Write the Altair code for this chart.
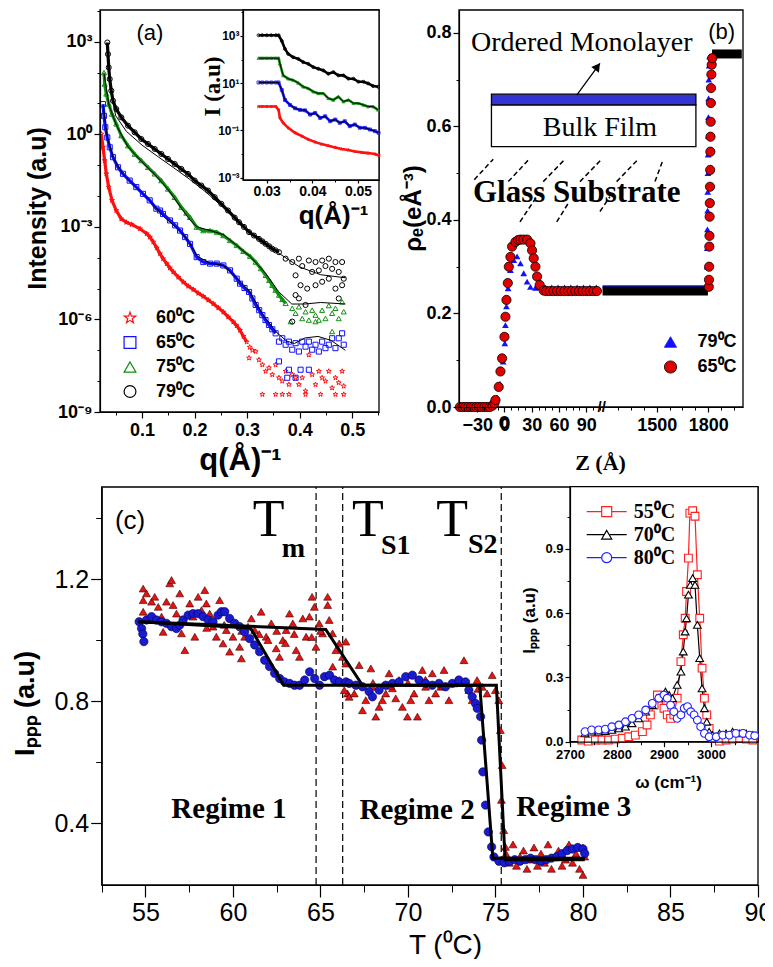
import altair as alt
import pandas as pd

W, H = 757, 951
SANS = "Liberation Sans, Arial, sans-serif"
NARROW = "Liberation Sans Narrow, Arial Narrow, Liberation Sans, sans-serif"
SERIF = "Liberation Serif, Times New Roman, serif"

# ======================= panel (a): X-ray reflectivity =======================
A_SERIES = ["60⁰C", "65⁰C", "75⁰C", "79⁰C"]
A_COLORS = ["#ff1010", "#1010ff", "#109010", "#000000"]
STAR = "M0,-1L0.235,-0.324L0.951,-0.309L0.38,0.124L0.588,0.809L0,0.4L-0.588,0.809L-0.38,0.124L-0.951,-0.309L-0.235,-0.324Z"
A_SHAPES = [STAR, "square", "triangle-up", "circle"]

# (q [1/A], log10 intensity)
a60_curve = [(0.0225, 0.01), (0.0257, -0.42), (0.0289, -0.85), (0.0320, -1.28), (0.0366, -1.71), (0.0428, -2.14),
             (0.0510, -2.47), (0.0605, -2.74), (0.0700, -2.85), (0.0803, -2.92), (0.0961, -3.06), (0.1089, -3.22),
             (0.1150, -3.33), (0.1215, -3.49), (0.1280, -3.68), (0.1342, -3.87), (0.1400, -4.03), (0.1469, -4.19),
             (0.1530, -4.33), (0.1595, -4.46), (0.1690, -4.63), (0.1786, -4.79), (0.1880, -4.92), (0.1976, -5.03),
             (0.2070, -5.15), (0.2166, -5.25), (0.2260, -5.37), (0.2357, -5.49), (0.2450, -5.62), (0.2547, -5.76),
             (0.2640, -5.92), (0.2737, -6.08), (0.2800, -6.20), (0.2865, -6.35), (0.2930, -6.55), (0.2992, -6.73)]
a60_scatter = [(0.3037, -7.25), (0.3050, -6.90), (0.3100, -7.00), (0.3163, -7.04), (0.3226, -7.31), (0.3290, -7.47),
               (0.3353, -7.68), (0.3416, -7.57), (0.3479, -7.79), (0.3543, -7.47), (0.3606, -7.89), (0.3669, -8.00),
               (0.3733, -7.68), (0.3796, -8.11), (0.3859, -7.79), (0.3922, -7.89), (0.3985, -8.11), (0.4049, -7.89),
               (0.4112, -8.32), (0.4175, -7.15), (0.4238, -7.79), (0.4302, -8.11), (0.4365, -7.68), (0.4428, -7.89),
               (0.4491, -8.00), (0.4555, -7.68), (0.4618, -8.22), (0.4681, -7.89), (0.4744, -8.05), (0.4808, -7.68),
               (0.4839, -8.16), (0.3290, -8.43), (0.3543, -8.43), (0.3669, -8.43), (0.3796, -8.43), (0.4112, -8.43),
               (0.4397, -8.43), (0.4681, -8.43), (0.4839, -8.43)]
a65_curve = [(0.0257, 0.98), (0.0276, 0.60), (0.0301, 0.23), (0.0339, -0.10), (0.0385, -0.42), (0.0447, -0.74),
             (0.0543, -1.07), (0.0638, -1.28), (0.0765, -1.50), (0.0891, -1.71), (0.1018, -1.93), (0.1146, -2.14),
             (0.1272, -2.41), (0.1342, -2.47), (0.1399, -2.58), (0.1532, -2.79), (0.1630, -2.95), (0.1723, -3.12),
             (0.1820, -3.33), (0.1913, -3.55), (0.2040, -3.98), (0.2166, -4.14), (0.2294, -4.19), (0.2421, -4.19),
             (0.2547, -4.25), (0.2674, -4.41), (0.2802, -4.68), (0.2865, -4.84), (0.2950, -4.98), (0.3037, -5.11),
             (0.3100, -5.32), (0.3163, -5.53), (0.3230, -5.70), (0.3290, -5.86), (0.3350, -6.02), (0.3416, -6.18),
             (0.3480, -6.32), (0.3543, -6.45)]
a65_scatter = [(0.3606, -6.72), (0.3669, -6.61), (0.3733, -6.82), (0.3796, -6.72), (0.3859, -6.98), (0.3922, -6.77),
               (0.3985, -7.04), (0.4049, -6.72), (0.4112, -6.88), (0.4175, -6.72), (0.4238, -6.98), (0.4302, -6.82),
               (0.4365, -7.04), (0.4428, -6.72), (0.4491, -6.93), (0.4555, -6.82), (0.4618, -6.61), (0.4681, -6.93),
               (0.4744, -6.61), (0.4808, -6.45), (0.4839, -6.82), (0.3606, -7.36), (0.3796, -7.63), (0.3922, -7.89),
               (0.4017, -7.63), (0.4175, -7.63), (0.3764, -7.89)]
a75_curve = [(0.0276, 2.00), (0.0289, 1.63), (0.0320, 1.31), (0.0366, 0.98), (0.0428, 0.66), (0.0510, 0.34),
             (0.0605, -0.04), (0.0733, -0.37), (0.0860, -0.64), (0.0986, -0.85), (0.1114, -1.07), (0.1241, -1.28),
             (0.1367, -1.50), (0.1494, -1.77), (0.1622, -2.04), (0.1747, -2.36), (0.1843, -2.55), (0.1913, -2.69),
             (0.2040, -3.01), (0.2167, -3.12), (0.2294, -3.12), (0.2421, -3.17), (0.2547, -3.28), (0.2674, -3.44),
             (0.2802, -3.60), (0.2927, -3.79), (0.3055, -3.95), (0.3163, -4.14), (0.3260, -4.35), (0.3353, -4.57),
             (0.3420, -4.73), (0.3479, -4.89), (0.3540, -5.05), (0.3606, -5.21), (0.3670, -5.35), (0.3733, -5.48)]
a75_scatter = [(0.3859, -5.64), (0.3922, -5.80), (0.3985, -5.59), (0.4049, -5.97), (0.4112, -5.75), (0.4175, -6.02),
               (0.4238, -5.70), (0.4302, -5.86), (0.4365, -6.02), (0.4428, -5.70), (0.4491, -5.97), (0.4555, -5.55),
               (0.4618, -5.80), (0.4681, -5.64), (0.4744, -5.97), (0.4808, -5.43), (0.4839, -5.75), (0.3828, -6.07),
               (0.4302, -6.07), (0.4618, -6.39)]
a79_curve = [(0.0339, 2.976), (0.0352, 2.599), (0.0366, 2.167), (0.0385, 1.790), (0.0415, 1.413), (0.0447, 1.089),
             (0.0510, 0.820), (0.0605, 0.550), (0.0733, 0.281), (0.0860, 0.065), (0.0986, -0.151), (0.1114, -0.312),
             (0.1241, -0.474), (0.1367, -0.636), (0.1494, -0.797), (0.1622, -0.959), (0.1747, -1.121), (0.1875, -1.283),
             (0.2002, -1.498), (0.2128, -1.660), (0.2256, -1.822), (0.2383, -2.037), (0.2509, -2.253), (0.2636, -2.469),
             (0.2764, -2.70), (0.2847, -2.85), (0.2940, -3.00), (0.3037, -3.17), (0.3130, -3.28), (0.3226, -3.39),
             (0.3290, -3.47), (0.3353, -3.55), (0.3420, -3.63), (0.3479, -3.71), (0.3540, -3.76), (0.3606, -3.82)]
a79_scatter = [(0.3733, -4.03), (0.3859, -4.14), (0.3985, -4.03), (0.4049, -4.27), (0.4175, -4.09), (0.4238, -4.46),
               (0.4302, -4.14), (0.4365, -4.41), (0.4428, -4.09), (0.4491, -4.27), (0.4555, -4.03), (0.4618, -4.36),
               (0.4681, -4.14), (0.4744, -4.46), (0.4808, -4.14), (0.4839, -4.68), (0.3922, -4.57), (0.4017, -4.89),
               (0.4144, -5.00), (0.4302, -4.89), (0.4428, -4.78), (0.4555, -4.68), (0.4681, -5.00), (0.4808, -4.89),
               (0.3922, -5.21), (0.3859, -6.07), (0.4112, -5.53), (0.3985, -5.32), (0.4744, -5.32)]
# fitted curves (thin black lines)
a_fit79 = [(0.034, 2.9), (0.040, 1.4), (0.050, 0.6), (0.070, 0.1), (0.100, -0.35), (0.130, -0.72), (0.160, -1.08),
           (0.190, -1.45), (0.220, -1.85), (0.250, -2.30), (0.280, -2.80), (0.320, -3.35), (0.360, -3.85),
           (0.400, -4.30), (0.440, -4.55), (0.487, -4.65)]
a_fit75 = [(0.028, 1.95), (0.037, 0.95), (0.051, 0.30), (0.073, -0.40), (0.099, -0.88), (0.124, -1.30), (0.150, -1.80),
           (0.175, -2.40), (0.190, -2.75), (0.205, -3.00), (0.230, -3.12), (0.255, -3.25), (0.280, -3.60),
           (0.305, -3.95), (0.335, -4.50), (0.360, -5.10), (0.385, -5.50), (0.410, -5.50), (0.440, -5.45), (0.487, -5.50)]
a_fit65 = [(0.026, 0.95), (0.034, -0.10), (0.045, -0.75), (0.064, -1.30), (0.089, -1.72), (0.115, -2.15), (0.140, -2.65),
           (0.172, -3.12), (0.190, -3.50), (0.205, -3.95), (0.230, -4.18), (0.255, -4.25), (0.280, -4.65),
           (0.305, -5.10), (0.330, -5.85), (0.355, -6.40), (0.375, -6.70), (0.390, -6.78), (0.410, -6.60),
           (0.435, -6.55), (0.460, -6.68), (0.487, -7.00)]

# inset of (a)
ai79 = [(0.0282, 3.03), (0.0290, 3.03), (0.0300, 3.03), (0.0310, 3.03), (0.0320, 3.03), (0.0326, 3.03), (0.0333, 2.79),
        (0.0340, 2.45), (0.0347, 2.24), (0.0358, 2.10), (0.0369, 2.03), (0.0380, 1.89), (0.0391, 1.82), (0.0402, 1.68),
        (0.0413, 1.61), (0.0424, 1.54), (0.0435, 1.40), (0.0446, 1.47), (0.0457, 1.33), (0.0468, 1.33), (0.0479, 1.19),
        (0.0490, 1.19), (0.0501, 1.06), (0.0512, 1.06), (0.0522, 0.99), (0.0533, 0.88), (0.0544, 0.85)]
ai75 = [(0.0282, 2.06), (0.0290, 2.06), (0.0300, 2.06), (0.0310, 2.06), (0.0320, 2.06), (0.0326, 2.06), (0.0329, 1.82),
        (0.0336, 1.33), (0.0347, 1.19), (0.0358, 1.13), (0.0369, 1.01), (0.0380, 0.85), (0.0391, 0.78), (0.0402, 0.64),
        (0.0413, 0.57), (0.0424, 0.57), (0.0435, 0.36), (0.0446, 0.29), (0.0457, 0.43), (0.0468, 0.22), (0.0479, 0.29),
        (0.0490, 0.15), (0.0501, 0.15), (0.0512, 0.08), (0.0522, 0.01), (0.0533, 0.01), (0.0544, -0.13)]
ai65 = [(0.0282, 1.03), (0.0290, 1.03), (0.0300, 1.03), (0.0310, 1.03), (0.0320, 1.03), (0.0326, 1.03), (0.0333, 0.71),
        (0.0340, 0.29), (0.0351, 0.08), (0.0362, -0.06), (0.0373, -0.13), (0.0384, -0.15), (0.0395, -0.33),
        (0.0406, -0.26), (0.0417, -0.47), (0.0428, -0.40), (0.0439, -0.61), (0.0450, -0.54), (0.0460, -0.68),
        (0.0471, -0.61), (0.0482, -0.82), (0.0493, -0.75), (0.0504, -0.89), (0.0515, -0.89), (0.0526, -0.96),
        (0.0537, -1.03), (0.0545, -1.10)]
ai60 = [(0.0282, 0.01), (0.0290, 0.01), (0.0300, 0.01), (0.0310, 0.01), (0.0320, 0.01), (0.0326, -0.13), (0.0329, -0.47),
        (0.0336, -0.68), (0.0347, -0.89), (0.0362, -1.10), (0.0377, -1.24), (0.0391, -1.38), (0.0406, -1.49),
        (0.0420, -1.58), (0.0435, -1.65), (0.0450, -1.72), (0.0464, -1.79), (0.0479, -1.83), (0.0493, -1.89),
        (0.0508, -1.93), (0.0522, -1.96), (0.0537, -2.00), (0.0546, -2.06)]

# ======================= panel (b): electron density =======================
b79 = [(-48, 0.0), (-40, 0.0), (-32, 0.0), (-24, 0.0), (-16, 0.0), (-8, 0.02), (-5, 0.05), (-3, 0.08), (-1.4, 0.097),
       (0.4, 0.136), (1.1, 0.175), (2.2, 0.215), (4.0, 0.254), (6.6, 0.293), (10.3, 0.314), (13.9, 0.322),
       (17.6, 0.307), (21.2, 0.286), (24.9, 0.268), (28.6, 0.257), (34.1, 0.255), (38, 0.256), (45, 0.256),
       (52, 0.256), (59, 0.256), (66, 0.256), (73, 0.256), (80, 0.256), (87, 0.256), (94, 0.256), (101, 0.256),
       (1792, 0.26), (1793, 0.30), (1794, 0.34), (1795, 0.38), (1796, 0.42), (1797, 0.46), (1798, 0.50), (1799, 0.54),
       (1800, 0.58), (1801, 0.62), (1802, 0.66), (1803, 0.70), (1805, 0.73), (1808, 0.75)]
b65 = [(-49, 0.0), (-46, 0.0), (-43, 0.0), (-40, 0.0), (-37, 0.0), (-34, 0.0), (-31, 0.0), (-28, 0.0), (-25, 0.0),
       (-22, 0.0), (-19, 0.0), (-16, 0.0), (-13, 0.003), (-11, 0.008), (-9.9, 0.015), (-6.3, 0.043), (-4.4, 0.076),
       (-2.6, 0.104), (0.0, 0.150), (1.1, 0.193), (2.2, 0.229), (3.7, 0.265), (4.8, 0.300), (6.6, 0.321), (8.4, 0.343),
       (12.1, 0.353), (15.0, 0.357), (17.6, 0.358), (21.0, 0.358), (24.9, 0.358), (28.6, 0.350), (30.4, 0.335),
       (32.2, 0.318), (34.1, 0.300), (35.9, 0.279), (38.8, 0.261), (43.2, 0.249), (46, 0.248), (50, 0.248),
       (54, 0.248), (58, 0.248), (62, 0.248), (66, 0.248), (70, 0.248), (74, 0.248), (78, 0.248), (82, 0.248),
       (86, 0.248), (90, 0.248), (94, 0.248), (98, 0.248), (101.8, 0.248), (1803, 0.257), (1804, 0.272),
       (1805, 0.300), (1806, 0.343), (1807, 0.366), (1808, 0.407), (1809, 0.436), (1810, 0.471), (1811, 0.507),
       (1812, 0.546), (1813, 0.578), (1814, 0.610), (1815, 0.650), (1816, 0.682), (1818, 0.711), (1820, 0.732),
       (1823, 0.746)]
b_blue_band = [(1185, 0.257), (1790, 0.257)]
b_black_band = [("low", 1185, 0.248), ("low", 1798, 0.248), ("top", 1822, 0.755), ("top", 1995, 0.755)]
B_TICKS = [-30, 0, 30, 60, 90, 1500, 1800]
# schematic (in data units of panel b)
b_box = [(-14.3, 1728, 0.557, 0.646)]
b_bar = [(-14.3, 1728, 0.646, 0.669)]
b_hatch = [(-33.2, 0.486, -12.3, 0.530), (4.2, 0.482, 26.2, 0.528), (42.7, 0.482, 66.6, 0.530),
           (83.1, 0.482, 107, 0.530), (1267, 0.482, 1393, 0.530), (1490, 0.482, 1538, 0.530),
           (17.1, 0.396, 35.5, 0.450), (57.5, 0.396, 70.3, 0.436), (105.1, 0.418, 1228, 0.450)]
b_arrow = [(79.5, 0.667), (105.1, 0.735)]
b_arrow_head = [(102.4, 0.728)]

# ======================= panel (c): SFG intensity vs T =======================
c_red = [(54.87, 1.169), (54.87, 1.131), (54.87, 1.093), (55.06, 1.153), (55.35, 1.126), (55.53, 1.142), (55.73, 1.109),
         (55.92, 1.077), (56.01, 1.027), (56.20, 1.126), (56.39, 1.186), (56.49, 1.197), (56.58, 1.115), (56.77, 1.087),
         (56.96, 1.153), (57.06, 1.022), (57.15, 1.066), (57.25, 0.967), (57.53, 1.120), (57.72, 1.077), (57.82, 1.011),
         (58.01, 1.142), (58.20, 1.098), (58.39, 1.164), (58.48, 1.120), (58.67, 1.087), (58.86, 1.044), (59.05, 1.011),
         (59.24, 1.131), (59.43, 0.989), (59.62, 1.033), (59.81, 0.962), (60.00, 1.011), (60.19, 1.055), (60.38, 0.978),
         (60.48, 0.940), (60.67, 1.011), (60.86, 1.044), (61.05, 1.071), (61.24, 1.033), (61.61, 1.093), (61.90, 1.011),
         (62.19, 1.055), (62.47, 0.973), (62.66, 0.945), (62.85, 1.000), (63.04, 1.033), (63.23, 1.087), (63.42, 1.055),
         (63.61, 0.967), (63.80, 0.945), (63.99, 1.071), (64.18, 1.011), (64.37, 1.077), (64.52, 1.142), (64.65, 1.109),
         (64.74, 0.978), (64.93, 1.055), (65.12, 1.022), (65.41, 1.115), (65.41, 1.142), (65.50, 1.066), (65.69, 1.022),
         (65.88, 0.967), (66.07, 0.989), (66.26, 0.945), (66.45, 0.923), (66.55, 0.825), (66.45, 0.995),
         (58.5, 1.04), (59.5, 1.05), (60.5, 1.03), (61.5, 1.02), (62.5, 1.03), (63.5, 1.02), (64.5, 1.01), (65.0, 1.03),
         (62.0, 1.00), (63.0, 0.99),
         (65.70, 0.913), (66.07, 0.869), (66.36, 0.836), (66.64, 0.814), (66.93, 0.825), (67.21, 0.918), (67.40, 0.770),
         (67.59, 0.803), (67.88, 0.907), (67.97, 0.847), (68.16, 0.749), (68.35, 0.781), (68.54, 0.803), (68.73, 0.825),
         (68.92, 0.891), (69.11, 0.842), (69.30, 0.809), (69.49, 0.869), (69.68, 0.781), (69.97, 0.749), (70.16, 0.803),
         (70.35, 0.825), (70.54, 0.749), (70.82, 0.902), (71.01, 0.847), (71.20, 0.803), (71.39, 0.891), (71.58, 0.825),
         (71.87, 0.847), (72.06, 0.902), (72.34, 0.803), (72.63, 0.858), (72.91, 0.869), (73.20, 0.934), (73.48, 0.836),
         (73.67, 0.803), (73.95, 0.869), (74.24, 0.847), (74.52, 0.825), (74.81, 0.885), (75.00, 0.836),
         (68.0, 0.86), (69.0, 0.85), (70.0, 0.86), (71.0, 0.87), (72.0, 0.85), (73.0, 0.86), (74.0, 0.84),
         (75.19, 0.803), (75.28, 0.705), (75.38, 0.590), (75.34, 0.476), (75.47, 0.377), (75.57, 0.322),
         (75.6, 0.30), (75.8, 0.27), (76.0, 0.33), (76.2, 0.26), (76.4, 0.29), (76.6, 0.31), (76.8, 0.25), (77.0, 0.28),
         (77.2, 0.32), (77.4, 0.26), (77.6, 0.30), (77.8, 0.27), (78.0, 0.33), (78.2, 0.25), (78.4, 0.29), (78.6, 0.31),
         (78.8, 0.26), (79.0, 0.28), (79.2, 0.33), (79.4, 0.27), (79.6, 0.30), (79.8, 0.25), (80.0, 0.32), (80.0, 0.23),
         (80.1, 0.29)]
c_blue = [(54.64, 1.060), (54.78, 1.038), (54.85, 1.02), (54.91, 0.995), (55.06, 1.066), (55.35, 1.077), (55.63, 1.066),
          (55.92, 1.060), (56.20, 1.055), (56.49, 1.044), (56.77, 1.038), (56.96, 1.049), (57.15, 1.066), (57.44, 1.082),
          (57.72, 1.087), (58.01, 1.087), (58.29, 1.077), (58.58, 1.066), (58.86, 1.060), (59.15, 1.082), (59.34, 1.093),
          (59.53, 1.093), (59.81, 1.071), (60.10, 1.055), (60.38, 1.044), (60.67, 1.027), (60.95, 1.005), (61.24, 0.984),
          (61.52, 0.962), (61.81, 0.934), (62.09, 0.913), (62.38, 0.891), (62.67, 0.874), (62.95, 0.863), (63.24, 0.858),
          (63.52, 0.852), (63.81, 0.852), (64.10, 0.869), (64.38, 0.896), (64.67, 0.874), (64.95, 0.852), (65.23, 0.880),
          (65.52, 0.885), (65.80, 0.869), (66.08, 0.863), (66.46, 0.863),
          (66.64, 0.858), (67.02, 0.852), (67.40, 0.847), (67.78, 0.831), (67.97, 0.814), (68.35, 0.836), (68.73, 0.852),
          (69.11, 0.858), (69.49, 0.863), (69.87, 0.880), (70.25, 0.885), (70.63, 0.869), (71.01, 0.858), (71.39, 0.852),
          (71.77, 0.858), (72.15, 0.847), (72.53, 0.858), (72.91, 0.869), (73.29, 0.863), (73.48, 0.836), (73.67, 0.814),
          (73.86, 0.792), (73.96, 0.776),
          (74.15, 0.749), (74.21, 0.672), (74.28, 0.568), (74.43, 0.459), (74.59, 0.371), (74.78, 0.322), (74.91, 0.289),
          (75.2, 0.275), (75.5, 0.27), (75.8, 0.275), (76.1, 0.28), (76.4, 0.275), (76.7, 0.28), (77.0, 0.285),
          (77.3, 0.28), (77.6, 0.275), (77.9, 0.28), (78.2, 0.285), (78.5, 0.29), (78.8, 0.30), (79.1, 0.31),
          (79.4, 0.315), (79.7, 0.32), (80.0, 0.315), (80.1, 0.30)]
c_fit = [("blue", 54.6, 1.06), ("blue", 61.0, 1.04), ("blue", 62.9, 0.852), ("blue", 74.1, 0.852),
         ("blue", 74.85, 0.285), ("blue", 80.1, 0.285),
         ("red", 54.6, 1.06), ("red", 65.3, 1.035), ("red", 67.4, 0.852), ("red", 75.05, 0.852),
         ("red", 75.55, 0.28), ("red", 80.1, 0.28)]
c_transitions = [64.75, 66.27, 75.33]

# inset of (c): SFG spectra
CI_SERIES = ["55⁰C", "70⁰C", "80⁰C"]
ci55 = [(2725, 0.008), (2739, 0.003), (2754, 0.008), (2768, 0.008), (2782, 0.008), (2796, 0.012), (2811, 0.016),
        (2825, 0.023), (2839, 0.031), (2854, 0.047), (2864, 0.078), (2871, 0.125), (2879, 0.171), (2886, 0.218),
        (2893, 0.203), (2900, 0.156), (2907, 0.125), (2914, 0.109), (2921, 0.125), (2928, 0.203), (2936, 0.374),
        (2941, 0.499), (2945, 0.576), (2948, 0.701), (2952, 0.857), (2955, 1.067), (2961, 1.078), (2966, 1.052),
        (2971, 0.779), (2976, 0.576), (2981, 0.343), (2986, 0.203), (2991, 0.125), (2996, 0.062), (3003, 0.016),
        (3018, 0.003), (3032, 0.008), (3046, 0.012), (3061, 0.016), (3075, 0.012), (3089, 0.008)]
ci70 = [(2732, 0.039), (2746, 0.047), (2761, 0.047), (2775, 0.050), (2789, 0.055), (2804, 0.062), (2818, 0.070),
        (2832, 0.086), (2846, 0.109), (2861, 0.140), (2875, 0.171), (2889, 0.203), (2903, 0.234), (2911, 0.218),
        (2918, 0.203), (2928, 0.265), (2936, 0.327), (2941, 0.421), (2945, 0.514), (2948, 0.576), (2952, 0.686),
        (2956, 0.732), (2961, 0.763), (2966, 0.732), (2971, 0.545), (2976, 0.390), (2981, 0.249), (2986, 0.156),
        (2991, 0.093), (2996, 0.047), (3003, 0.031), (3018, 0.039), (3032, 0.039), (3046, 0.047), (3061, 0.039),
        (3075, 0.039), (3089, 0.031)]
ci80 = [(2732, 0.047), (2746, 0.055), (2761, 0.055), (2775, 0.059), (2789, 0.070), (2804, 0.078), (2818, 0.093),
        (2832, 0.109), (2846, 0.125), (2861, 0.148), (2875, 0.179), (2889, 0.203), (2900, 0.218), (2907, 0.203),
        (2914, 0.171), (2921, 0.140), (2928, 0.109), (2936, 0.125), (2943, 0.156), (2950, 0.164), (2957, 0.140),
        (2964, 0.125), (2971, 0.101), (2978, 0.070), (2986, 0.039), (2996, 0.023), (3011, 0.023), (3025, 0.031),
        (3039, 0.031), (3053, 0.039), (3068, 0.039), (3082, 0.031), (3093, 0.028)]


# ======================= helpers =======================
def S(dom, rng):
    return alt.Scale(domain=dom, range=rng, nice=False, zero=False)

XA = ([0.02, 0.551], [92, 371]);         YA = ([-9, 4.03], [404, 2])
XAI = ([0.0248, 0.0546], [235, 371]);    YAI = ([-3.1, 4.1], [172, 2])
XB = ([-50, 107, 1180, 2002], [451, 593.7, 593.7, 735]); YB = ([0, 0.849], [399, 2])
XC = ([52.5, 90], [93.7, 750]);          YC = ([0.197, 1.502], [877, 479])
XCI = ([2700, 3100], [562, 750]);        YCI = ([0, 1.19], [733.7, 478.7])


def major(orient, offset, values, fs, font=SANS, weight="bold", tick=6, pad=2, fmt=None, expr=None,
          title=None, tfont=SANS, tfs=20, tweight="bold", tx=0, ty=0):
    kw = dict(orient=orient, offset=offset, values=values, grid=False, labelFont=font, labelFontSize=fs,
              labelFontWeight=weight, labelColor="black", tickColor="black", tickSize=tick, tickWidth=1.2,
              domainColor="black", domainWidth=1.2, labelPadding=pad, labelFlush=False,
              labelOverlap=False, zindex=1)
    if fmt:
        kw["format"] = fmt
    if expr:
        kw["labelExpr"] = expr
    if title:
        kw.update(title=title, titleFont=tfont, titleFontSize=tfs, titleFontWeight=tweight, titleColor="black",
                  titleX=tx, titleY=ty, titleAlign="center", titleBaseline="middle")
    else:
        kw["title"] = None
    return alt.Axis(**kw)


def minor(orient, offset, values, tick=3):
    return alt.Axis(orient=orient, offset=offset, values=values, labels=False, domain=False, grid=False,
                    ticks=True, tickSize=tick, tickColor="black", tickWidth=1, title=None, zindex=1)


def frame(xs, ys, xax, yax, sw=1.3):
    return alt.Chart(pd.DataFrame({"k": [0]})).mark_rect(fill="white", stroke="black", strokeWidth=sw).encode(
        x=alt.X(datum=xs[0][0], type="quantitative", scale=S(*xs), axis=xax),
        x2=alt.X2(datum=xs[0][-1]),
        y=alt.Y(datum=ys[0][0], type="quantitative", scale=S(*ys), axis=yax),
        y2=alt.Y2(datum=ys[0][-1]))


def texts(rows, xs, ys, **props):
    df = pd.DataFrame(rows, columns=["t", "x", "y"])
    base = dict(color="black", align="center", baseline="middle")
    base.update(props)
    return alt.Chart(df).mark_text(**base).encode(
        x=alt.X("x:Q", scale=S(*xs), axis=None),
        y=alt.Y("y:Q", scale=S(*ys), axis=None),
        text="t:N")


layers = []

# ----------------------------- (a) main -----------------------------
rows = []
for name, cur, sca in [("60⁰C", a60_curve, a60_scatter), ("65⁰C", a65_curve, a65_scatter),
                       ("75⁰C", a75_curve, a75_scatter), ("79⁰C", a79_curve, a79_scatter)]:
    rows += [dict(s=name, q=q, l=l, k="curve") for q, l in cur]
    rows += [dict(s=name, q=q, l=l, k="scatter") for q, l in sca]
df_a = pd.DataFrame(rows)
fit_rows = []
for name, fit in [("79", a_fit79), ("75", a_fit75), ("65", a_fit65)]:
    fit_rows += [dict(s=name, q=q, l=l) for q, l in fit]
df_afit = pd.DataFrame(fit_rows)

layers.append(frame(XA, YA,
                    minor("bottom", -547, [0.05, 0.15, 0.25, 0.35, 0.45, 0.55]),
                    minor("left", -92, [-8, -7, -5, -4, -2, -1, 1, 2, 4])))
layers.append(alt.Chart(df_a).transform_filter("datum.k == 'curve'").mark_line(strokeWidth=3.2).encode(
    x=alt.X("q:Q", scale=S(*XA), axis=None),
    y=alt.Y("l:Q", scale=S(*YA), axis=None),
    color=alt.Color("s:N", scale=alt.Scale(domain=A_SERIES, range=A_COLORS), legend=None),
    detail="s:N"))
legend_a = alt.Legend(orient="none", legendX=113, legendY=301, direction="vertical", title=None, padding=0,
                      labelFont=SANS, labelFontSize=18, labelFontWeight="bold", labelColor="black",
                      symbolSize=140, symbolStrokeWidth=1.2, labelOffset=17, rowPadding=6.5)
a_expr = ("datum.value == 3 ? '10³' : datum.value == 0 ? '10⁰' : datum.value == -3 ? '10⁻³' : "
          "datum.value == -6 ? '10⁻⁶' : '10⁻⁹'")
layers.append(alt.Chart(df_a).mark_point(filled=False, size=26, strokeWidth=1, opacity=1).encode(
    x=alt.X("q:Q", scale=S(*XA), axis=major("bottom", -547, [0.1, 0.2, 0.3, 0.4, 0.5], 18, fmt=".1f",
                                            tick=6, pad=3, title="q(Å)⁻¹", tfs=31, tx=232, ty=48)),
    y=alt.Y("l:Q", scale=S(*YA), axis=major("left", -92, [-9, -6, -3, 0, 3], 18, expr=a_expr, tick=6, pad=2,
                                            title="Intensity (a.u)", tfs=25, tx=-63, ty=200)),
    color=alt.Color("s:N", scale=alt.Scale(domain=A_SERIES, range=A_COLORS), legend=legend_a),
    shape=alt.Shape("s:N", scale=alt.Scale(domain=A_SERIES, range=A_SHAPES), legend=legend_a)))
layers.append(alt.Chart(df_afit).mark_line(color="black", strokeWidth=1).encode(
    x=alt.X("q:Q", scale=S(*XA), axis=None),
    y=alt.Y("l:Q", scale=S(*YA), axis=None),
    detail="s:N"))
layers.append(texts([("(a)", 0.115, 3.29)], XA, YA, font=SANS, fontSize=22))

# ----------------------------- (a) inset -----------------------------
rows = []
for name, d in [("60⁰C", ai60), ("65⁰C", ai65), ("75⁰C", ai75), ("79⁰C", ai79)]:
    rows += [dict(s=name, q=q, l=l) for q, l in d]
df_ai = pd.DataFrame(rows)
ai_expr = "datum.value == 3 ? '10³' : datum.value == 1 ? '10¹' : datum.value == -1 ? '10⁻¹' : '10⁻³'"
layers.append(frame(XAI, YAI,
                    minor("bottom", -779, [0.035, 0.045], 2),
                    minor("left", -235, [-2, 0, 2, 4], 2)))
layers.append(alt.Chart(df_ai).mark_line(strokeWidth=2.6).encode(
    x=alt.X("q:Q", scale=S(*XAI), axis=major("bottom", -779, [0.03, 0.04, 0.05], 14, fmt=".2f", tick=3, pad=1,
                                             title="q(Å)⁻¹", tfs=26, tx=325, ty=35)),
    y=alt.Y("l:Q", scale=S(*YAI), axis=major("left", -235, [-3, -1, 1, 3], 12, expr=ai_expr, tick=3, pad=1,
                                             title="I (a.u)", tfont=SERIF, tfs=23, tx=-31, ty=78)),
    color=alt.Color("s:N", scale=alt.Scale(domain=A_SERIES, range=A_COLORS), legend=None),
    detail="s:N"))
layers.append(alt.Chart(df_ai).mark_point(filled=False, size=9, strokeWidth=0.8, opacity=1).encode(
    x=alt.X("q:Q", scale=S(*XAI), axis=None),
    y=alt.Y("l:Q", scale=S(*YAI), axis=None),
    color=alt.Color("s:N", scale=alt.Scale(domain=A_SERIES, range=A_COLORS), legend=None),
    shape=alt.Shape("s:N", scale=alt.Scale(domain=A_SERIES, range=A_SHAPES), legend=None)))
layers.append(alt.Chart(df_ai).transform_filter("datum.s != '60⁰C'").mark_line(color="black", strokeWidth=0.9).encode(
    x=alt.X("q:Q", scale=S(*XAI), axis=None),
    y=alt.Y("l:Q", scale=S(*YAI), axis=None),
    detail="s:N"))

# ----------------------------- (b) -----------------------------
layers.append(frame(XB, YB,
                    minor("bottom", -552, [-45, -37.5, -22.5, -15, -7.5, 7.5, 15, 22.5, 37.5, 45, 52.5, 67.5, 75,
                                           82.5, 97.5, 105, 1275, 1350, 1425, 1575, 1650, 1725, 1875, 1950], 3),
                    minor("left", -451, [0.1, 0.3, 0.5, 0.7], 3)))
df_box = pd.DataFrame(b_box, columns=["z1", "z2", "r1", "r2"])
df_bar = pd.DataFrame(b_bar, columns=["z1", "z2", "r1", "r2"])
for dfr, fillc in [(df_box, "white"), (df_bar, "#3434d0")]:
    layers.append(alt.Chart(dfr).mark_rect(fill=fillc, stroke="black", strokeWidth=1.3).encode(
        x=alt.X("z1:Q", scale=S(*XB), axis=None), x2="z2:Q",
        y=alt.Y("r1:Q", scale=S(*YB), axis=None), y2="r2:Q"))
hatch_rows = []
for i, (z1, r1, z2, r2) in enumerate(b_hatch):
    hatch_rows += [dict(id=i, z=z1, r=r1), dict(id=i, z=z2, r=r2)]
layers.append(alt.Chart(pd.DataFrame(hatch_rows)).mark_line(color="black", strokeWidth=1.5, strokeDash=[5, 3]).encode(
    x=alt.X("z:Q", scale=S(*XB), axis=None),
    y=alt.Y("r:Q", scale=S(*YB), axis=None),
    detail="id:N"))
layers.append(alt.Chart(pd.DataFrame(b_arrow, columns=["z", "r"])).mark_line(color="black", strokeWidth=1.3).encode(
    x=alt.X("z:Q", scale=S(*XB), axis=None),
    y=alt.Y("r:Q", scale=S(*YB), axis=None)))
layers.append(alt.Chart(pd.DataFrame(b_arrow_head, columns=["z", "r"])).mark_point(
    shape="triangle-up", filled=True, color="black", size=90, angle=36, opacity=1).encode(
    x=alt.X("z:Q", scale=S(*XB), axis=None),
    y=alt.Y("r:Q", scale=S(*YB), axis=None)))
layers.append(texts([("Ordered Monolayer", 85.0, 0.778), ("Bulk Film", 105.1, 0.596)], XB, YB,
                    font=SERIF, fontSize=28))
layers.append(texts([("Glass Substrate", 79.5, 0.457)], XB, YB, font=SERIF, fontSize=31, fontWeight="bold"))
layers.append(alt.Chart(pd.DataFrame(b_blue_band, columns=["z", "r"])).mark_line(color="#1010ff", strokeWidth=3).encode(
    x=alt.X("z:Q", scale=S(*XB), axis=None),
    y=alt.Y("r:Q", scale=S(*YB), axis=None)))
layers.append(alt.Chart(pd.DataFrame(b_black_band, columns=["id", "z", "r"])).mark_line(
    color="black", strokeWidth=9).encode(
    x=alt.X("z:Q", scale=S(*XB), axis=None),
    y=alt.Y("r:Q", scale=S(*YB), axis=None),
    detail="id:N"))


def b_legend(y, shape, stroke_color):
    return alt.Legend(orient="none", legendX=653.5, legendY=y, direction="vertical", title=None, padding=0,
                      labelFont=SANS, labelFontSize=18, labelFontWeight="bold", labelColor="black",
                      symbolType=shape, symbolSize=150, symbolStrokeColor=stroke_color, symbolStrokeWidth=0.8,
                      labelOffset=18)


b_expr = "datum.value == 0 ? '0 ' : format(datum.value, 'd')"
df_b79 = pd.DataFrame([dict(s="79⁰C", z=z, r=r) for z, r in b79])
df_b65 = pd.DataFrame([dict(s="65⁰C", z=z, r=r) for z, r in b65])
layers.append(alt.Chart(df_b79).mark_point(shape="triangle-up", filled=True, size=45, opacity=1).encode(
    x=alt.X("z:Q", scale=S(*XB), axis=major("bottom", -552, B_TICKS, 18, expr=b_expr,
                                            tick=5, pad=4, title="Z (Å)", tfont=SERIF, tfs=22, tx=592, ty=55)),
    y=alt.Y("r:Q", scale=S(*YB), axis=major("left", -451, [0, 0.2, 0.4, 0.6, 0.8], 18, fmt=".1f", tick=6, pad=2,
                                            title="ρₑ(eÅ⁻³)", tfs=24, tx=-46, ty=200)),
    color=alt.Color("s:N", scale=alt.Scale(domain=["79⁰C"], range=["#1010ff"]),
                    legend=b_legend(325, "triangle-up", "#1010ff"))))
layers.append(alt.Chart(df_b65).mark_point(shape="circle", filled=True, size=85, stroke="black", strokeWidth=0.8,
                                           opacity=1).encode(
    x=alt.X("z:Q", scale=S(*XB), axis=None),
    y=alt.Y("r:Q", scale=S(*YB), axis=None),
    color=alt.Color("s:N", scale=alt.Scale(domain=["65⁰C"], range=["#e00000"]),
                    legend=b_legend(350, "circle", "black"))))
layers.append(texts([("(b)", 1878, 0.803)], XB, YB, font=SANS, fontSize=22))
layers.append(texts([("//", 107, 0.0)], XB, YB, font=SANS, fontSize=15, fontWeight="bold"))
# tick label "0" of panel (b), also written as a text mark in a fallback font just under its tick
layers.append(texts([("0", 0, -0.0192)], XB, YB, font="DejaVu Sans, sans-serif", fontSize=17,
                    fontWeight="bold", baseline="top"))

# ----------------------------- (c) main -----------------------------
layers.append(frame(XC, YC,
                    minor("bottom", -74, [52.5, 57.5, 62.5, 67.5, 72.5, 77.5, 82.5, 87.5], 7),
                    minor("left", -93.7, [0.6, 1.0, 1.4], 6)))
layers.append(alt.Chart(pd.DataFrame({"T": c_transitions})).mark_rule(
    color="black", strokeWidth=1.2, strokeDash=[7, 4]).encode(
    x=alt.X("T:Q", scale=S(*XC), axis=None),
    y=alt.Y(datum=YC[0][0], type="quantitative", scale=S(*YC), axis=None),
    y2=alt.Y2(datum=YC[0][1])))
layers.append(alt.Chart(pd.DataFrame(c_red, columns=["T", "v"])).mark_point(
    shape="triangle-up", filled=True, fill="#e41414", stroke="#3a0000", strokeWidth=0.6, size=62, opacity=1).encode(
    x=alt.X("T:Q", scale=S(*XC), axis=major("bottom", -74, [55, 60, 65, 70, 75, 80, 85, 90], 25, font=NARROW,
                                            weight="normal", fmt="d", tick=12, pad=3,
                                            title="T (⁰C)", tfont=SANS, tfs=28, tweight="normal", tx=437, ty=60)),
    y=alt.Y("v:Q", scale=S(*YC), axis=major("left", -93.7, [0.4, 0.8, 1.2], 25, font=NARROW, weight="normal",
                                            fmt=".1f", tick=11, pad=2,
                                            title="Iₚₚₚ (a.u)", tfs=27, tx=-76, ty=695))))
layers.append(alt.Chart(pd.DataFrame(c_blue, columns=["T", "v"])).mark_point(
    shape="circle", filled=True, fill="#1a1ad0", stroke="#000050", strokeWidth=0.6, size=70, opacity=1).encode(
    x=alt.X("T:Q", scale=S(*XC), axis=None),
    y=alt.Y("v:Q", scale=S(*YC), axis=None)))
layers.append(alt.Chart(pd.DataFrame(c_fit, columns=["id", "T", "v"])).mark_line(color="black", strokeWidth=3).encode(
    x=alt.X("T:Q", scale=S(*XC), axis=None),
    y=alt.Y("v:Q", scale=S(*YC), axis=None),
    detail="id:N"))
layers.append(texts([("(c)", 54.12, 1.391)], XC, YC, font=SANS, fontSize=26))
layers.append(texts([("T", 62.04, 1.394), ("T", 67.71, 1.394), ("T", 72.52, 1.394)], XC, YC,
                    font=SERIF, fontSize=52))
layers.append(texts([("m", 63.45, 1.299), ("S1", 69.30, 1.310), ("S2", 74.27, 1.313)], XC, YC,
                    font=SERIF, fontSize=28, fontWeight="bold"))
layers.append(texts([("Regime 1", 59.77, 0.446), ("Regime 2", 70.52, 0.443), ("Regime 3", 79.47, 0.453)], XC, YC,
                    font=SERIF, fontSize=29, fontWeight="bold"))

# ----------------------------- (c) inset -----------------------------
rows = []
for name, d in [("55⁰C", ci55), ("70⁰C", ci70), ("80⁰C", ci80)]:
    rows += [dict(s=name, w=w, v=v) for w, v in d]
df_ci = pd.DataFrame(rows)
CI_COLORS = ["#ff2020", "#000000", "#2020ff"]
layers.append(frame(XCI, YCI,
                    minor("bottom", -217.3, [2750, 2850, 2950, 3050], 3),
                    minor("left", -562, [0.15, 0.45, 0.75, 1.05], 3)))
LINE_SYM = "M-4,0L4,0"
legend_cl = alt.Legend(orient="none", legendX=588.7, legendY=493.7, direction="vertical", title=None, padding=0,
                       labelFont=SERIF, labelFontSize=20, labelFontWeight="bold", labelColor="black",
                       symbolType=LINE_SYM, symbolSize=100, symbolStrokeWidth=1.2, labelOffset=17, rowPadding=3)
layers.append(alt.Chart(df_ci).mark_line(strokeWidth=1.2).encode(
    x=alt.X("w:Q", scale=S(*XCI), axis=None),
    y=alt.Y("v:Q", scale=S(*YCI), axis=None),
    color=alt.Color("s:N", scale=alt.Scale(domain=CI_SERIES, range=CI_COLORS), legend=legend_cl),
    detail="s:N"))
legend_cm = alt.Legend(orient="none", legendX=588.7, legendY=493.7, direction="vertical", title=None, padding=0,
                       labelFont=SERIF, labelFontSize=20, labelFontWeight="bold", labelOpacity=0,
                       symbolSize=100, symbolStrokeWidth=1.2, symbolFillColor="white", labelOffset=17, rowPadding=3)
layers.append(alt.Chart(df_ci).mark_point(filled=True, fill="white", size=60, strokeWidth=1.1, opacity=1).encode(
    x=alt.X("w:Q", scale=S(*XCI), axis=major("bottom", -217.3, [2700, 2800, 2900, 3000], 13, fmt="d", tick=5, pad=2,
                                             title="ω (cm⁻¹)", tfs=17, tx=660, ty=41)),
    y=alt.Y("v:Q", scale=S(*YCI), axis=major("left", -562, [0, 0.3, 0.6, 0.9], 13, fmt=".1f", tick=5, pad=2,
                                             title="Iₚₚₚ (a.u)", tfs=17, tx=-41, ty=612)),
    stroke=alt.Stroke("s:N", scale=alt.Scale(domain=CI_SERIES, range=CI_COLORS), legend=legend_cm),
    shape=alt.Shape("s:N", scale=alt.Scale(domain=CI_SERIES, range=["square", "triangle-up", "circle"]),
                    legend=legend_cm)))

chart = alt.layer(*layers).resolve_scale(
    x="independent", y="independent", color="independent", shape="independent",
    fill="independent", stroke="independent", size="independent"
).properties(
    width=W, height=H, padding=0, autosize=alt.AutoSizeParams(type="none"), background="white"
).configure_view(strokeWidth=0)

chart.save("out.html", embed_options={"renderer": "svg", "actions": False})
